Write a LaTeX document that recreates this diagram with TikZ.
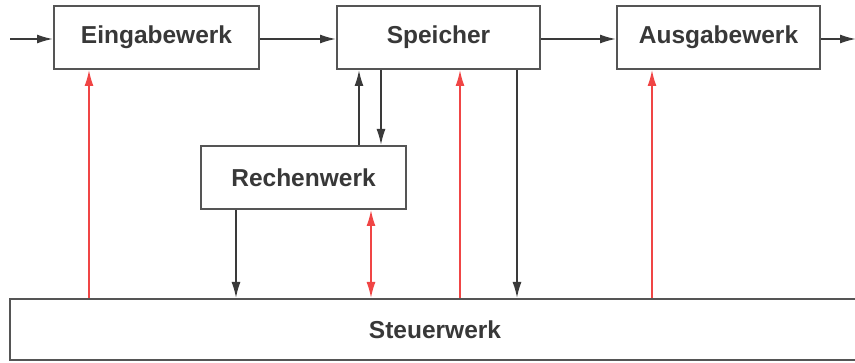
\documentclass[tikz,border=0pt]{standalone}
\usepackage{fontspec}
\setmainfont{Liberation Sans}
\usetikzlibrary{arrows.meta}
\definecolor{boxc}{HTML}{555555}
\definecolor{linec}{HTML}{3A3A3A}
\definecolor{ctlred}{HTML}{F04545}
\tikzset{
  unit/.style={draw=boxc, line width=2pt, fill=white, inner sep=0pt,
    font=\fontsize{24.5}{28}\selectfont\bfseries, text=black!78},
  tip/.style={Latex[length=16pt,width=9pt]},
  flow/.style={draw=linec, line width=1.8pt, -{Latex[length=16pt,width=9pt]}},
  ctl/.style={draw=ctlred, line width=1.6pt, -{Latex[length=16pt,width=9pt]}},
  ctlboth/.style={draw=ctlred, line width=1.6pt, {Latex[length=16pt,width=9pt]}-{Latex[length=16pt,width=9pt]}}
}
\begin{document}
\begin{tikzpicture}[x=1pt,y=-1pt]
\useasboundingbox (0,0) rectangle (855,363);
\node[unit, minimum width=205pt, minimum height=63pt] (ein) at (156.5,37.5) {Eingabewerk};
\node[unit, minimum width=203pt, minimum height=63pt] (spe) at (438.5,37.5) {Speicher};
\node[unit, minimum width=203pt, minimum height=63pt] (aus) at (718.5,37.5) {Ausgabewerk};
\node[unit, minimum width=205pt, minimum height=63pt] (rec) at (303.5,177.5) {Rechenwerk};
\node[unit, minimum width=850pt, minimum height=61pt] (ste) at (435,329.5) {Steuerwerk};
\coordinate (in) at (10,39);
\coordinate (out) at (856,39);
\draw[flow] (in) -- (in -| ein.west);
\draw[flow] (ein.east |- 0,39) -- (spe.west |- 0,39);
\draw[flow] (spe.east |- 0,39) -- (aus.west |- 0,39);
\draw[flow] (aus.east |- 0,39) -- (out);
% controls
\draw[ctl] (ste.north -| 89,0) -- (ein.south -| 89,0);
\draw[ctl] (ste.north -| 460,0) -- (spe.south -| 460,0);
\draw[ctl] (ste.north -| 652,0) -- (aus.south -| 652,0);
\draw[ctlboth] (ste.north -| 371,0) -- (rec.south -| 371,0);
% data
\draw[flow] (rec.north -| 359,0) -- (spe.south -| 359,0);
\draw[flow] (spe.south -| 381,0) -- (rec.north -| 381,0);
\draw[flow] (rec.south -| 236,0) -- (ste.north -| 236,0);
\draw[flow] (spe.south -| 517,0) -- (ste.north -| 517,0);
\end{tikzpicture}
\end{document}
